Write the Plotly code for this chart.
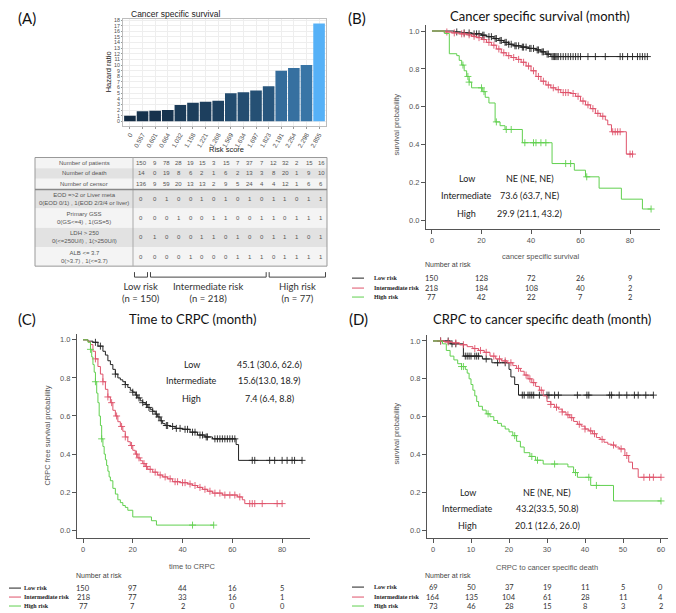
import numpy as np
import plotly.graph_objects as go

# the page body keeps its default 8px margin, so the figure is drawn 8px in
OFF = 8
W, H = 676 - OFF, 613 - OFF

# ---------------- (A) hazard ratio by risk score ----------------
risk_scores = ["0", "0.557", "0.601", "0.664", "1.032", "1.158", "1.221", "1.268",
               "1.569", "1.634", "1.697", "1.823", "2.191", "2.254", "2.298", "2.855"]
hazard_ratio = [1.0, 1.8, 1.9, 2.0, 2.9, 3.3, 3.5, 3.65, 5.0, 5.15, 5.5, 6.25, 9.0, 9.5, 10.0, 17.4]

n_patients = [150, 9, 78, 28, 19, 15, 3, 15, 7, 37, 7, 12, 32, 2, 15, 16]
n_death = [14, 0, 19, 8, 6, 2, 1, 6, 2, 13, 3, 8, 20, 1, 9, 10]
n_censor = [136, 9, 59, 20, 13, 13, 2, 9, 5, 24, 4, 4, 12, 1, 6, 6]
eod = [0, 0, 1, 0, 0, 1, 0, 1, 0, 1, 0, 1, 1, 0, 1, 1]
gss = [0, 0, 0, 1, 0, 0, 1, 1, 0, 0, 1, 1, 0, 1, 1, 1]
ldh = [0, 1, 0, 0, 0, 1, 1, 0, 1, 0, 0, 1, 1, 1, 0, 1]
alb = [0, 0, 0, 0, 1, 0, 0, 0, 1, 1, 1, 0, 1, 1, 1, 1]
row_labels = ["Number of patients", "Number of death", "Number of censor",
              "EOD =&gt;2 or Liver meta<br>0(EOD 0/1) , 1(EOD 2/3/4 or liver)",
              "Primary GSS<br>0(GS&lt;=4) , 1(GS=5)",
              "LDH &gt; 250<br>0(&lt;=250U/l) , 1(&gt;250U/l)",
              "ALB &lt;= 3.7<br>0(&gt;3.7) , 1(&lt;=3.7)"]
risk_groups = ["Low risk<br>(n = 150)", "Intermediate risk<br>(n = 218)", "High risk<br>(n = 77)"]
group_cols = [(0, 0), (1, 10), (11, 15)]

# ---------------- KM curves (time, survival after step, censor times) ----------------
# (B) cancer specific survival
b_low_t = [9, 12, 16, 20, 22, 25, 27, 29, 31, 33, 36, 39, 42, 44, 46, 48]
b_low_s = [0.995, 0.99, 0.985, 0.978, 0.97, 0.96, 0.95, 0.94, 0.93, 0.922, 0.915, 0.908, 0.9, 0.89, 0.878, 0.865]
b_low_c = [10, 13, 15, 17, 18, 19, 20.5, 21, 23, 24, 25.5, 26, 27.5, 28, 29.5, 30, 31, 32, 33.5, 34, 35,
           36.5, 37, 38, 39.5, 40, 41, 42.5, 43, 44.5, 45, 46.5, 47, 48.5, 49, 49.5, 50, 50.5, 51, 52, 53,
           54, 55, 56, 57, 58, 59, 60, 63, 66, 70, 76, 77, 79, 81, 83, 84, 85, 86, 87]
b_int_t = [5, 8, 11, 14, 16, 18, 20, 22, 24, 26, 28, 30, 32, 34, 36, 38, 40, 42, 44, 46, 48, 50, 52,
           56, 58, 60, 62, 64, 66, 68, 70, 71, 72.5, 78.5]
b_int_s = [0.995, 0.99, 0.985, 0.98, 0.972, 0.965, 0.955, 0.94, 0.925, 0.905, 0.885, 0.87, 0.86, 0.85,
           0.835, 0.815, 0.79, 0.76, 0.735, 0.715, 0.70, 0.69, 0.675, 0.67, 0.655, 0.63, 0.61, 0.59,
           0.565, 0.55, 0.53, 0.505, 0.468, 0.35]
b_int_c = [6, 9, 12, 13, 15, 17, 19, 21, 23, 25, 27, 29, 31, 33, 35, 37, 39, 41, 43, 45, 47, 49, 51,
           53, 54, 55, 57, 59, 61, 63, 65, 67, 69, 73, 74, 75, 76, 80, 81]
b_high_t = [5, 7, 10, 11, 12, 13, 14, 15, 16, 20.5, 21.5, 23, 25.5, 27.5, 29.5, 36.5, 48.5, 57.5, 62,
            67.5, 76.5, 85]
b_high_s = [0.987, 0.88, 0.87, 0.845, 0.82, 0.79, 0.76, 0.73, 0.70, 0.68, 0.65, 0.62, 0.52, 0.50, 0.48,
            0.41, 0.30, 0.265, 0.23, 0.17, 0.112, 0.06]
b_high_c = [12.5, 14.5, 15, 20, 21, 26, 30, 32, 37.5, 41, 42, 44, 46, 54, 56, 62.5, 88.5]

# (C) time to CRPC
c_low_t = [2, 4, 6, 8, 9, 10, 11, 12, 13, 14, 15, 16, 17, 18, 19, 20, 21, 22, 23, 24, 25, 26, 27, 28,
           29, 30, 31, 32, 33, 35, 37, 40, 43, 46, 49, 52, 61.5, 62.5]
c_low_s = [0.993, 0.987, 0.967, 0.94, 0.92, 0.89, 0.87, 0.845, 0.82, 0.80, 0.79, 0.78, 0.765, 0.75,
           0.735, 0.725, 0.71, 0.695, 0.68, 0.67, 0.66, 0.645, 0.635, 0.625, 0.61, 0.595, 0.575, 0.56,
           0.55, 0.545, 0.535, 0.53, 0.515, 0.50, 0.49, 0.48, 0.45, 0.367]
c_low_c = [5, 7, 13, 17, 20, 21.5, 22.5, 24, 25.5, 26.5, 28, 29.5, 30.5, 31.5, 33.5, 34, 36, 37.5, 39,
           41, 42, 44, 45, 47, 48, 49.5, 50, 53, 54, 55, 56, 57, 58, 59, 60, 61, 68, 69, 75, 77, 80, 82,
           84, 85, 88]
c_int_t = [2, 3, 4, 5, 6, 7, 8, 9, 10, 11, 12, 13, 14, 15, 16, 17, 18, 19, 20, 21, 22, 23, 24, 25, 26,
           28, 30, 32, 34, 36, 39, 42, 44, 46, 48, 50, 52, 56, 62, 64, 65]
c_int_s = [0.99, 0.975, 0.94, 0.9, 0.86, 0.82, 0.78, 0.74, 0.70, 0.67, 0.63, 0.60, 0.57, 0.545, 0.52,
           0.49, 0.465, 0.445, 0.42, 0.40, 0.38, 0.365, 0.35, 0.335, 0.32, 0.305, 0.29, 0.28, 0.27,
           0.255, 0.25, 0.243, 0.235, 0.225, 0.215, 0.205, 0.195, 0.185, 0.175, 0.16, 0.14]
c_int_c = [5, 8, 10, 11.5, 13.5, 15.5, 17, 19.5, 21.5, 22.5, 24.5, 25.5, 27, 29, 31, 33, 35, 37, 38,
           40, 41, 43, 45, 47, 49, 51, 53, 55, 57, 59, 61, 63, 67, 68, 69, 72, 78, 80]
c_high_t = [2, 3, 3.5, 4, 4.5, 5, 5.5, 6, 6.5, 7, 7.5, 8, 8.5, 9, 9.5, 10, 10.5, 11, 12, 13, 14, 15,
            16, 17, 18, 20, 27.5, 29.5]
c_high_s = [0.987, 0.95, 0.91, 0.87, 0.83, 0.78, 0.72, 0.67, 0.6, 0.55, 0.48, 0.44, 0.40, 0.37, 0.34,
            0.31, 0.28, 0.26, 0.22, 0.19, 0.16, 0.145, 0.13, 0.12, 0.105, 0.07, 0.05, 0.027]
c_high_c = [3, 5, 7.5, 44, 52.5]

# (D) CRPC to cancer specific death
d_low_t = [4.5, 8, 13, 15.5, 20, 20.5, 21.5, 22.5]
d_low_s = [0.985, 0.92, 0.905, 0.885, 0.85, 0.81, 0.77, 0.714]
d_low_c = [2, 4, 5, 6, 8.5, 9, 9.5, 10, 11, 11.5, 12, 14, 17, 19, 23.5, 24, 25, 25.5, 26, 26.5, 28, 30,
           30.5, 32, 33, 38, 40.5, 41, 46.5, 47, 49, 51, 53, 54, 56, 58]
d_int_t = [3, 5, 7, 9, 10.5, 12, 13.5, 15, 16.5, 18, 19.5, 21, 22, 23, 24, 25, 26, 27, 28, 29, 30, 31,
           32, 33, 34, 35, 36, 37, 38, 39, 40, 41, 42, 43, 44, 45, 46, 47, 48, 49, 50.5, 51.5, 52.5, 54]
d_int_s = [0.995, 0.99, 0.98, 0.97, 0.96, 0.95, 0.94, 0.92, 0.905, 0.895, 0.885, 0.87, 0.855, 0.84,
           0.82, 0.80, 0.78, 0.76, 0.74, 0.71, 0.68, 0.665, 0.65, 0.64, 0.625, 0.61, 0.595, 0.575,
           0.56, 0.55, 0.535, 0.525, 0.51, 0.49, 0.48, 0.465, 0.455, 0.45, 0.44, 0.43, 0.395, 0.36,
           0.325, 0.28]
d_int_c = [2, 4, 6, 8, 11, 12.5, 14, 16, 17.5, 19, 20.5, 22.5, 24.5, 25.5, 26.5, 28.5, 31, 32.5, 34,
           35.5, 36.5, 38.5, 40, 41.5, 42.5, 44.5, 47.5, 49.5, 51, 55.5, 57, 58, 60]
d_high_t = [2.5, 3.5, 4.5, 5.5, 6.5, 7.5, 8.5, 9, 9.5, 10, 10.5, 11, 11.5, 12, 13, 14, 15, 16, 17, 18,
            19, 20, 21, 22, 23, 24, 25.5, 27, 29, 35.5, 37, 38, 41.5, 47.5]
d_high_s = [0.985, 0.95, 0.92, 0.9, 0.88, 0.865, 0.85, 0.83, 0.80, 0.77, 0.74, 0.71, 0.68, 0.655,
            0.635, 0.615, 0.60, 0.58, 0.565, 0.55, 0.535, 0.52, 0.50, 0.47, 0.44, 0.41, 0.39, 0.37,
            0.35, 0.335, 0.305, 0.28, 0.237, 0.155]
d_high_c = [7.5, 8, 14.5, 21.5, 26, 27.5, 32, 37.5, 41, 43, 60]

# number at risk
b_risk_times = [0, 20, 40, 60, 80]
b_risk = {"Low risk": [150, 128, 72, 26, 9], "Intermediate risk": [218, 184, 108, 40, 2],
          "High risk": [77, 42, 22, 7, 2]}
c_risk_times = [0, 20, 40, 60, 80]
c_risk = {"Low risk": [150, 97, 44, 16, 5], "Intermediate risk": [218, 77, 33, 16, 1],
          "High risk": [77, 7, 2, 0, 0]}
d_risk_times = [0, 10, 20, 30, 40, 50, 60]
d_risk = {"Low risk": [69, 50, 37, 19, 11, 5, 0], "Intermediate risk": [164, 135, 104, 61, 28, 11, 4],
          "High risk": [73, 46, 28, 15, 8, 3, 2]}

# median survival (95% CI)
b_median = ["NE (NE, NE)", "73.6 (63.7, NE)", "29.9 (21.1, 43.2)"]
c_median = ["45.1 (30.6, 62.6)", "15.6(13.0, 18.9)", "7.4 (6.4, 8.8)"]
d_median = ["NE (NE, NE)", "43.2(33.5, 50.8)", "20.1 (12.6, 26.0)"]
group_names = ["Low", "Intermediate", "High"]
colors = ["#222222", "#DF536B", "#61D04F"]


# positions below are given in screen pixels of the 676x613 page
def fx(p):
    return (p - OFF) / W


def fy(p):
    return 1 - (p - OFF) / H


def km_xy(times, surv, censor):
    end = max(times[-1], censor[-1])
    x = [0] + list(times) + [end]
    y = [1.0] + list(surv) + [surv[-1]]
    idx = np.searchsorted(np.array(times), np.array(censor), side="right") - 1
    cy = [1.0 if i < 0 else surv[i] for i in idx]
    return x, y, cy


fig = go.Figure()
annotations = []
shapes = []

# ---- bar chart
fig.add_trace(go.Bar(
    x=risk_scores, y=hazard_ratio, xaxis="x", yaxis="y",
    marker=dict(color=hazard_ratio, colorscale=[[0, "#132B43"], [1, "#56B1F7"]],
                line=dict(width=0)),
    showlegend=False, hoverinfo="x+y"))

# ---- KM panels
panels = [
    ("2", [(b_low_t, b_low_s, b_low_c), (b_int_t, b_int_s, b_int_c), (b_high_t, b_high_s, b_high_c)]),
    ("3", [(c_low_t, c_low_s, c_low_c), (c_int_t, c_int_s, c_int_c), (c_high_t, c_high_s, c_high_c)]),
    ("4", [(d_low_t, d_low_s, d_low_c), (d_int_t, d_int_s, d_int_c), (d_high_t, d_high_s, d_high_c)]),
]
for ax, curves in panels:
    for (t, s, c), col in zip(curves, colors):
        x, y, cy = km_xy(t, s, c)
        fig.add_trace(go.Scatter(x=x, y=y, mode="lines", line_shape="hv",
                                 line=dict(color=col, width=1), xaxis="x" + ax, yaxis="y" + ax,
                                 showlegend=False))
        fig.add_trace(go.Scatter(x=c, y=cy, mode="markers",
                                 marker=dict(symbol="cross-thin", size=5, color=col,
                                             line=dict(color=col, width=0.9)),
                                 xaxis="x" + ax, yaxis="y" + ax, showlegend=False))

AX_FONT = dict(family="Liberation Sans", size=7.5, color="#555")
TXT = "Lato"


def km_axes(xdom, ydom, xr, yr, xticks, anchor):
    xa = dict(domain=[fx(xdom[0]), fx(xdom[1])], range=xr, anchor="y" + anchor,
              showline=True, linecolor="#555", linewidth=1, ticks="outside", ticklen=4,
              tickcolor="#555", tickfont=AX_FONT, tickvals=xticks, showgrid=False, zeroline=False)
    ya = dict(domain=[fy(ydom[1]), fy(ydom[0])], range=yr, anchor="x" + anchor,
              showline=True, linecolor="#555", linewidth=1, ticks="outside", ticklen=4,
              tickcolor="#555", tickfont=AX_FONT, tickvals=[0, 0.2, 0.4, 0.6, 0.8, 1.0],
              ticktext=["0.0", "0.2", "0.4", "0.6", "0.8", "1.0"], showgrid=False, zeroline=False)
    return xa, ya


xa2, ya2 = km_axes((426, 660), (23, 228), [-2.42, 92.1], [-0.047, 1.032], b_risk_times, "2")
xa3, ya3 = km_axes((77, 310), (333, 538), [-2.41, 91.2], [-0.042, 1.031], c_risk_times, "3")
xa4, ya4 = km_axes((427, 670), (334, 538), [-1.58, 62.37], [-0.042, 1.032], d_risk_times, "4")

fig.update_layout(
    width=W, height=H, margin=dict(l=0, r=0, t=0, b=0),
    paper_bgcolor="white", plot_bgcolor="white", bargap=0.08,
    xaxis=dict(domain=[fx(123), fx(326)], anchor="y", type="category", range=[-0.55, 15.55],
               tickangle=-60, tickfont=dict(family="Liberation Sans", size=6.3, color="#4d4d4d"),
               showline=True, mirror=True, linecolor="#bdbdbd", linewidth=1,
               showgrid=True, gridcolor="#eeeeee", gridwidth=0.6, ticks="outside", ticklen=2,
               tickcolor="#999"),
    yaxis=dict(domain=[fy(124), fy(17)], anchor="x", range=[-0.76, 18.2], dtick=1,
               tickfont=dict(family="Liberation Sans", size=5.3, color="#4d4d4d"),
               showline=True, mirror=True, linecolor="#bdbdbd", linewidth=1,
               showgrid=True, gridcolor="#eeeeee", gridwidth=0.6, zeroline=False,
               ticks="outside", ticklen=1, tickcolor="#999"),
    xaxis2=xa2, yaxis2=ya2, xaxis3=xa3, yaxis3=ya3, xaxis4=xa4, yaxis4=ya4,
)


def ann(text, x, y, size, color="#222", family=TXT, xanchor="center", angle=0, bold=False, **kw):
    if bold:
        text = "<b>" + text + "</b>"
    d = dict(text=text, x=x, y=y, xref=kw.pop("xref", "paper"), yref=kw.pop("yref", "paper"),
             showarrow=False, xanchor=xanchor, yanchor="middle", textangle=angle,
             font=dict(family=family, size=size, color=color))
    d.update(kw)
    annotations.append(d)


# panel letters and titles
ann("(A)", fx(27), fy(16), 15, "#111")
ann("(B)", fx(357), fy(16), 15, "#111")
ann("(C)", fx(27), fy(318), 15, "#111")
ann("(D)", fx(359), fy(318), 15, "#111")
ann("Cancer specific survival", fx(129), fy(12.5), 8.5, "#222", family="Liberation Sans", xanchor="left")
ann("Hazard ratio", fx(108.5), fy(70), 7.5, "#222", family="Liberation Sans", angle=-90)
ann("Risk score", fx(226), fy(148), 7.5, "#222", family="Liberation Sans")
ann("Cancer specific survival (month)", fx(540), fy(14), 13, "#111")
ann("Time to CRPC (month)", fx(192), fy(318), 13, "#111")
ann("CRPC to cancer specific death (month)", fx(542), fy(318), 13, "#111")

# axis titles
ann("cancer specific survival", fx(540), fy(255), 7.5, "#555", family="Liberation Sans")
ann("time to CRPC", fx(192), fy(566), 7.5, "#555", family="Liberation Sans")
ann("CRPC to cancer specific death", fx(547), fy(567), 7.5, "#555", family="Liberation Sans")
ann("survival probability", fx(397), fy(123), 7.5, "#555", family="Liberation Sans", angle=-90)
ann("CRPC free survival probability", fx(48), fy(435), 7.5, "#555", family="Liberation Sans", angle=-90)
ann("survival probability", fx(397), fy(433), 7.5, "#555", family="Liberation Sans", angle=-90)

# median labels
for ax, med, xl, xv, ys in [("2", b_median, 14, 39.5, [0.223, 0.13, 0.038]),
                            ("3", c_median, 43.6, 74.8, [0.873, 0.784, 0.693]),
                            ("4", d_median, 9.1, 30.1, [0.2, 0.114, 0.026])]:
    for name, m, yv in zip(group_names, med, ys):
        ann(name, xl, yv, 9, "#222", xref="x" + ax, yref="y" + ax)
        ann(m, xv, yv, 9, "#222", xref="x" + ax, yref="y" + ax)

# number at risk tables
for ax, times, risk, head_x, head_y, rows_y, key_x in [
        ("2", b_risk_times, b_risk, 423, 263, [277, 287, 296], 352),
        ("3", c_risk_times, c_risk, 74, 575, [588, 597, 606], 9),
        ("4", d_risk_times, d_risk, 423, 575, [587, 597, 606], 352)]:
    ann("Number at risk", fx(head_x), fy(head_y), 7, "#444", family="Liberation Sans", xanchor="left")
    for (label, vals), ry, col in zip(risk.items(), rows_y, colors):
        shapes.append(dict(type="line", xref="paper", yref="paper", x0=fx(key_x), x1=fx(key_x + 12),
                           y0=fy(ry), y1=fy(ry), line=dict(color=col, width=1)))
        ann(label, fx(key_x + (13 if ax == "3" else 20)), fy(ry), 6, "#222", family="Liberation Serif",
            xanchor="left", bold=True)
        for t, v in zip(times, vals):
            ann(str(v), t, fy(ry), 7.5, "#333", xref="x" + ax)

# ---- table under bar chart
row_edges = [156, 166.7, 177.3, 188, 207.25, 226.5, 245.75, 265]
col_edges = [35, 133, 149] + [149 + k * 178.0 / 15 for k in range(1, 16)]
table_rows = [n_patients, n_death, n_censor, eod, gss, ldh, alb]
for r, (lab, vals) in enumerate(zip(row_labels, table_rows)):
    y0, y1 = row_edges[r], row_edges[r + 1]
    shapes.append(dict(type="rect", xref="paper", yref="paper", x0=fx(col_edges[0]),
                       x1=fx(col_edges[-1]), y0=fy(y1), y1=fy(y0),
                       fillcolor="#f4f4f4" if r % 2 == 0 else "#e2e2e2", line=dict(width=0),
                       layer="below"))
    ym = fy((y0 + y1) / 2)
    ann(lab, fx((col_edges[0] + col_edges[1]) / 2), ym, 6, "#555", family="Liberation Sans")
    for c, v in enumerate(vals):
        ann(str(v), fx((col_edges[c + 1] + col_edges[c + 2]) / 2), ym, 6, "#555",
            family="Liberation Sans")
shapes.append(dict(type="rect", xref="paper", yref="paper", x0=fx(col_edges[0]), x1=fx(col_edges[-1]),
                   y0=fy(row_edges[-1]), y1=fy(row_edges[0]), line=dict(color="#999", width=1)))
shapes.append(dict(type="line", xref="paper", yref="paper", x0=fx(col_edges[1]), x1=fx(col_edges[1]),
                   y0=fy(row_edges[-1]), y1=fy(row_edges[0]), line=dict(color="#aaa", width=1)))
shapes.append(dict(type="line", xref="paper", yref="paper", x0=fx(col_edges[0]), x1=fx(col_edges[-1]),
                   y0=fy(row_edges[3]), y1=fy(row_edges[3]), line=dict(color="#888", width=1.5)))

# risk group brackets
for (c0, c1), lab in zip(group_cols, risk_groups):
    xa, xb = col_edges[c0 + 1] + 1.5, col_edges[c1 + 2] - 1.5
    path = "M %f,%f L %f,%f L %f,%f L %f,%f" % (fx(xa), fy(271), fx(xa), fy(276),
                                                   fx(xb), fy(276), fx(xb), fy(271))
    shapes.append(dict(type="path", xref="paper", yref="paper", path=path,
                       line=dict(color="#444", width=1)))
    ann(lab, fx((xa + xb) / 2), fy(291), 9.5, "#333")

fig.update_layout(annotations=annotations, shapes=shapes)
fig.write_html("out.html")
